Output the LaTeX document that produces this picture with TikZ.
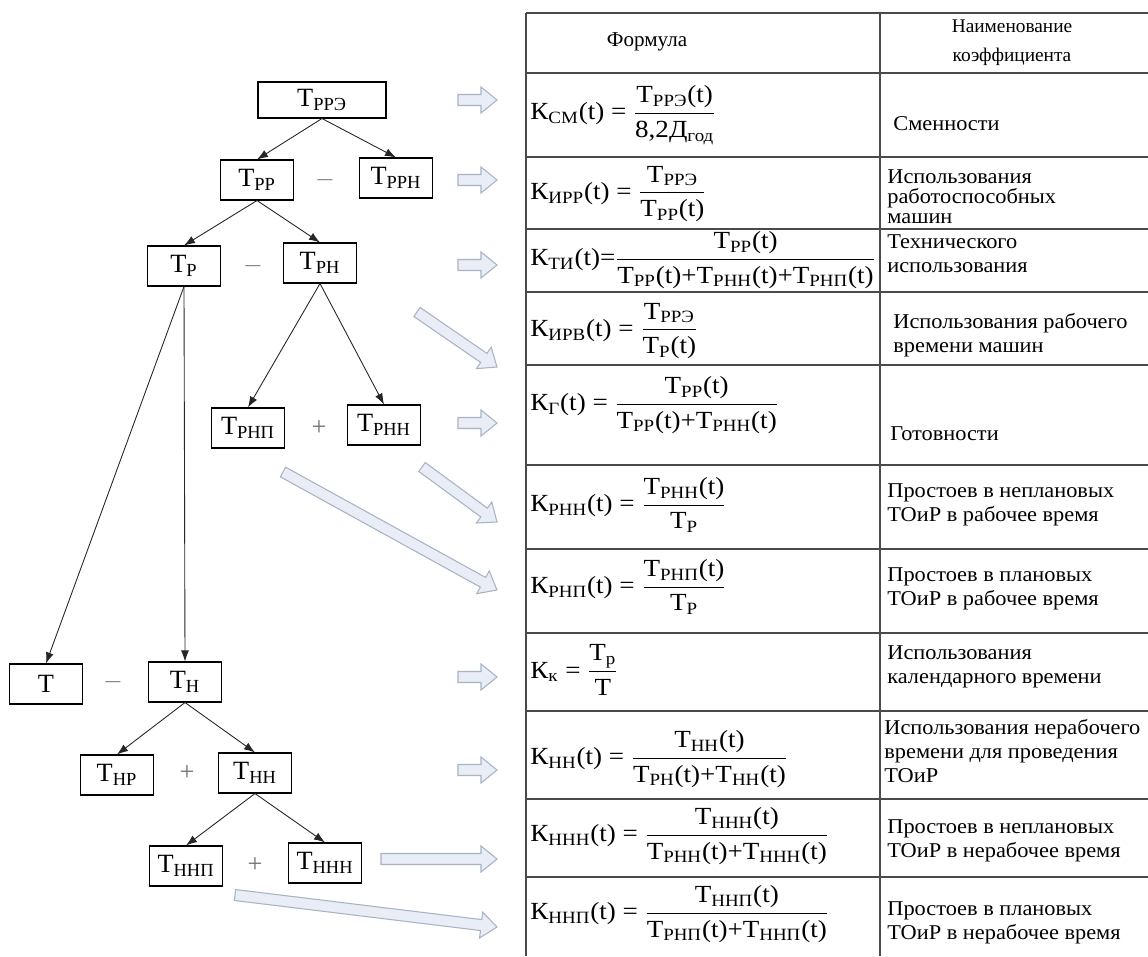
\documentclass[tikz,border=0pt]{standalone}
\usepackage{amsmath}
\usepackage{fontspec}
\setmainfont{Liberation Serif}
\newfontfamily\namefont{Liberation Serif}[FakeStretch=1.06]
\newfontfamily\formfont{Liberation Serif}[FakeStretch=1.1]
\usetikzlibrary{calc,arrows.meta}

\definecolor{arrowfill}{HTML}{E8EDF6}
\definecolor{arrowedge}{HTML}{A8B3C6}
\definecolor{rulegray}{HTML}{4A4A4A}

% time fund T and coefficient K with a subscript
\newcommand{\Tx}[1]{Т\textsubscript{#1}}
\newcommand{\Kx}[1]{К\textsubscript{#1}}

% wide hollow arrow from #1 to #2
\newcommand{\fatarrow}[2]{%
  \coordinate (fa-h) at ($(#2)!0.32cm!(#1)$);
  \filldraw[bluearrow] ($(#1)!0.11cm!90:(#2)$) -- ($(fa-h)!0.11cm!-90:(#1)$)
    -- ($(fa-h)!0.26cm!-90:(#1)$) -- (#2) -- ($(fa-h)!0.26cm!90:(#1)$)
    -- ($(fa-h)!0.11cm!90:(#1)$) -- ($(#1)!0.11cm!-90:(#2)$) -- cycle;}

\begin{document}
\begin{tikzpicture}[x=0.02cm, y=-0.02cm,
    box/.style={draw, line width=0.6pt, minimum width=1.45cm, minimum height=0.8cm,
      inner sep=1pt, font=\fontsize{15}{17}\selectfont},
    op/.style={text=black!55, font=\fontsize{15}{17}\selectfont},
    link/.style={-{Latex[length=2.2mm,width=1.6mm]}, line width=0.5pt, draw=black!85},
    bluearrow/.style={fill=arrowfill, draw=arrowedge, line width=0.6pt},
    rule/.style={draw=rulegray, line width=0.9pt},
    formcell/.style={anchor=west, inner sep=0pt, font=\formfont\fontsize{14}{16}\selectfont},
    coef/.style={anchor=west, align=left, inner sep=0pt, font=\namefont\fontsize{12}{13.8}\selectfont}]

    \useasboundingbox (0,0) rectangle (1148,956);
    \fill[white] (0,0) rectangle (1148,956);

    % Tree of time funds
    \node[box, minimum width=2.56cm, minimum height=0.72cm] (trre) at (322,100) {\Tx{РРЭ}};
    \node[box] (trr) at (257,180) {\Tx{РР}};
    \node[op] (m1) at (325,180) {$-$};
    \node[box] (trrn) at (396,178) {\Tx{РРН}};
    \node[box] (tr) at (184,266) {\Tx{Р}};
    \node[op] (m2) at (253,266) {$-$};
    \node[box] (trn) at (320,263) {\Tx{РН}};
    \node[box] (trnp) at (248,428) {\Tx{РНП}};
    \node[op] (p1) at (319,428) {+};
    \node[box] (trnn) at (384,425) {\Tx{РНН}};
    \node[box] (t) at (46,684) {Т};
    \node[op] (m3) at (113,682) {$-$};
    \node[box] (tn) at (185,682) {\Tx{Н}};
    \node[box] (tnr) at (117,775) {\Tx{НР}};
    \node[op] (p2) at (187,773) {+};
    \node[box] (tnn) at (255,773) {\Tx{НН}};
    \node[box] (tnnp) at (186,866) {\Tx{ННП}};
    \node[op] (p3) at (255,865) {+};
    \node[box] (tnnn) at (325,863) {\Tx{ННН}};

    \draw[link] (trre.south) -- (trr.north);
    \draw[link] (trre.south) -- (trrn.north);
    \draw[link] (trr.south) -- (tr.north);
    \draw[link] (trr.south) -- (trn.north);
    \draw[link] (trn.south) -- (trnp.north);
    \draw[link] (trn.south) -- (trnn.north);
    \draw[link] (tr.south) -- (t.north);
    \draw[link] (tr.south) -- (tn.north);
    \draw[link] (tn.south) -- (tnr.north);
    \draw[link] (tn.south) -- (tnn.north);
    \draw[link] (tnn.south) -- (tnnp.north);
    \draw[link] (tnn.south) -- (tnnn.north);

    % Hollow arrows to the coefficients
    \foreach \xa/\ya/\xb/\yb in {458/100/497/100, 458/180/497/180, 458/265/497/265,
        417/312/497/367, 458/423/497/423, 422/467/497/522, 283/472/497/590,
        458/677/497/677, 458/770/497/770, 381/859/497/859, 235/895/497/927} {
        \coordinate (s) at (\xa,\ya);
        \coordinate (e) at (\xb,\yb);
        \fatarrow{s}{e}
    }

    % Table grid
    \foreach \y in {13,73,157,229,292,365,465,549,633,711,799,877}
        \draw[rule] (526,\y) -- (1148,\y);
    \draw[rule] (526,13) -- (526,956);
    \draw[rule] (880,13) -- (880,956);

    % Header
    \node[font=\fontsize{12}{13.8}\selectfont] (h1) at (647,42) {Формула};
    \node[font=\fontsize{11}{16.4}\selectfont, align=center] (h2) at (1012,43)
        {Наименование\\коэффициента};

    % Formulas
    \node[formcell] (f1) at (530,115)
        {\Kx{СМ}(t) = $\dfrac{\text{\Tx{РРЭ}(t)}}{\text{8,2Д\textsubscript{год}}}$};
    \node[formcell] (f2) at (530,194)
        {\Kx{ИРР}(t) = $\dfrac{\text{\Tx{РРЭ}}}{\text{\Tx{РР}(t)}}$};
    \node[formcell] (f3) at (530,260)
        {\Kx{ТИ}(t)=$\dfrac{\text{\Tx{РР}(t)}}{\text{\Tx{РР}(t)+\Tx{РНН}(t)+\Tx{РНП}(t)}}$};
    \node[formcell] (f4) at (530,331)
        {\Kx{ИРВ}(t) = $\dfrac{\text{\Tx{РРЭ}}}{\text{\Tx{Р}(t)}}$};
    \node[formcell] (f5) at (530,405)
        {\Kx{Г}(t) = $\dfrac{\text{\Tx{РР}(t)}}{\text{\Tx{РР}(t)+\Tx{РНН}(t)}}$};
    \node[formcell] (f6) at (530,505)
        {\Kx{РНН}(t) = $\dfrac{\text{\Tx{РНН}(t)}}{\text{\Tx{Р}}}$};
    \node[formcell] (f7) at (530,587)
        {\Kx{РНП}(t) = $\dfrac{\text{\Tx{РНП}(t)}}{\text{\Tx{Р}}}$};
    \node[formcell] (f8) at (530,670)
        {\Kx{к} = $\dfrac{\text{\Tx{р}}}{\text{Т}}$};
    \node[formcell] (f9) at (530,759)
        {\Kx{НН}(t) = $\dfrac{\text{\Tx{НН}(t)}}{\text{\Tx{РН}(t)+\Tx{НН}(t)}}$};
    \node[formcell] (f10) at (530,836)
        {\Kx{ННН}(t) = $\dfrac{\text{\Tx{ННН}(t)}}{\text{\Tx{РНН}(t)+\Tx{ННН}(t)}}$};
    \node[formcell] (f11) at (530,914)
        {\Kx{ННП}(t) = $\dfrac{\text{\Tx{ННП}(t)}}{\text{\Tx{РНП}(t)+\Tx{ННП}(t)}}$};

    % Coefficient names
    \node[coef] (n1) at (893,124) {Сменности};
    \node[coef] (n2) at (887,197)
        {Использования\\[-2.5pt]работоспособных\\[-2.5pt]машин};
    \node[coef] (n3) at (887,254) {Технического\\использования};
    \node[coef] (n4) at (893,335) {Использования рабочего\\времени машин};
    \node[coef] (n5) at (890,434) {Готовности};
    \node[coef] (n6) at (887,505) {Простоев в неплановых\\ТОиР в рабочее время};
    \node[coef] (n7) at (887,589) {Простоев в плановых\\ТОиР в рабочее время};
    \node[coef] (n8) at (887,667) {Использования\\календарного времени};
    \node[coef] (n9) at (884,751) {Использования нерабочего\\времени для проведения\\ТОиР};
    \node[coef] (n10) at (887,841) {Простоев в неплановых\\ТОиР в нерабочее время};
    \node[coef] (n11) at (887,923) {Простоев в плановых\\ТОиР в нерабочее время};
\end{tikzpicture}
\end{document}
